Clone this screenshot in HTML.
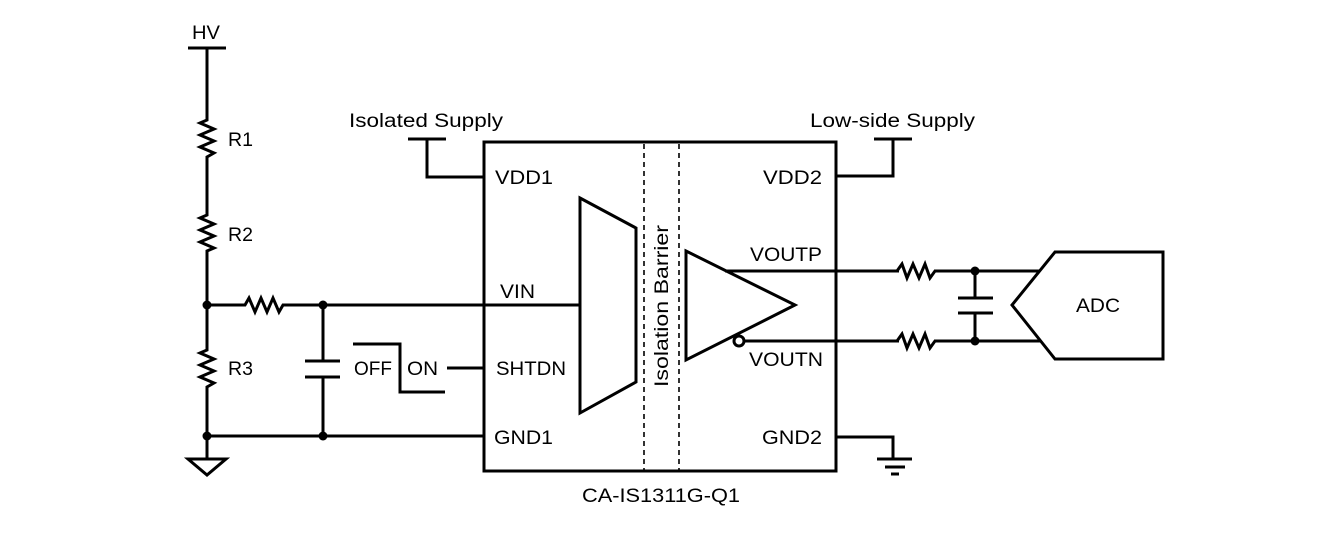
<!DOCTYPE html>
<html><head><style>
html,body{margin:0;padding:0;background:#fff;}
svg{display:block;}
text{font-family:"Liberation Sans",sans-serif;font-size:19px;fill:#000;}
</style></head><body>
<svg width="1318" height="541" viewBox="0 0 1318 541" xmlns="http://www.w3.org/2000/svg">
<g fill="none" stroke="#000" stroke-width="3" stroke-linejoin="miter">
<line x1="188" y1="48" x2="226" y2="48"/>
<polyline points="207,48 207,120 200,123 214,129 200,135 214,141 200,147 214,153 207,157 207,215 200,218 214,224 200,230 214,236 200,242 214,248 207,251 207,350 200,353 214,359 200,365 214,371 200,377 214,383 207,387 207,459"/>
<polygon points="188,459 226,459 207,475"/>
<line x1="207" y1="436" x2="484" y2="436"/>
<polyline points="207,305 245,305 249,298 255,312 261,298 267,312 273,298 279,312 283,305 580,305"/>
<line x1="323" y1="305" x2="323" y2="361"/>
<line x1="305" y1="361" x2="340" y2="361"/>
<line x1="305" y1="377" x2="340" y2="377"/>
<line x1="323" y1="377" x2="323" y2="436"/>
<polyline points="353,344 400,344 400,392 445,392"/>
<line x1="447" y1="368" x2="484" y2="368"/>
<line x1="408" y1="139" x2="446" y2="139"/>
<polyline points="427,139 427,177 484,177"/>
<rect x="484" y="142" width="352" height="329"/>
<polygon points="580,198 636,228 636,382 580,413"/>
<polygon points="686,251 795,305 686,360"/>
<circle cx="739" cy="341" r="5"/>
<line x1="725" y1="271" x2="1040" y2="271"/>
<line x1="744" y1="341" x2="1040" y2="341"/>
<line x1="874" y1="139" x2="912" y2="139"/>
<polyline points="893,139 893,176 836,176"/>
<polyline points="836,437 893,437 893,459"/>
<line x1="877" y1="459" x2="912" y2="459"/>
<line x1="885" y1="467" x2="905" y2="467"/>
<line x1="891" y1="474" x2="899" y2="474"/>
<polygon points="1055,252 1163,252 1163,359 1055,359 1012,305"/>
<line x1="975" y1="271" x2="975" y2="298"/>
<line x1="958" y1="298" x2="993" y2="298"/>
<line x1="958" y1="313" x2="993" y2="313"/>
<line x1="975" y1="313" x2="975" y2="341"/>
</g>
<g stroke="#fff" stroke-width="5"><line x1="899" y1="271" x2="934" y2="271"/><line x1="899" y1="341" x2="934" y2="341"/></g>
<g fill="none" stroke="#000" stroke-width="3">
<polyline points="897,271 902,264 907,278 913,264 919,278 925,264 930,278 935,271"/>
<polyline points="897,341 902,334 907,348 913,334 919,348 925,334 930,348 935,341"/>
</g>
<g stroke="#000" stroke-width="1.6" stroke-dasharray="5,4">
<line x1="644" y1="144" x2="644" y2="470"/>
<line x1="679" y1="144" x2="679" y2="470"/>
</g>
<g fill="#000">
<circle cx="207" cy="305" r="4.5"/><circle cx="323" cy="305" r="4.5"/>
<circle cx="207" cy="436" r="4.5"/><circle cx="323" cy="436" r="4.5"/>
<circle cx="975" cy="271" r="4.5"/><circle cx="975" cy="341" r="4.5"/>
</g>
<g lengthAdjust="spacingAndGlyphs">
<text x="192" y="39" textLength="28" lengthAdjust="spacingAndGlyphs">HV</text>
<text x="228" y="146" textLength="25" lengthAdjust="spacingAndGlyphs">R1</text>
<text x="228" y="241" textLength="25" lengthAdjust="spacingAndGlyphs">R2</text>
<text x="228" y="375" textLength="25" lengthAdjust="spacingAndGlyphs">R3</text>
<text x="349" y="127" textLength="154" lengthAdjust="spacingAndGlyphs">Isolated Supply</text>
<text x="810" y="127" textLength="165" lengthAdjust="spacingAndGlyphs">Low-side Supply</text>
<text x="354" y="375" textLength="38" lengthAdjust="spacingAndGlyphs">OFF</text>
<text x="407" y="375" textLength="31" lengthAdjust="spacingAndGlyphs">ON</text>
<text x="495" y="184" textLength="58" lengthAdjust="spacingAndGlyphs">VDD1</text>
<text x="500" y="298" textLength="35" lengthAdjust="spacingAndGlyphs">VIN</text>
<text x="496" y="375" textLength="70" lengthAdjust="spacingAndGlyphs">SHTDN</text>
<text x="494" y="444" textLength="59" lengthAdjust="spacingAndGlyphs">GND1</text>
<text x="763" y="184" textLength="59" lengthAdjust="spacingAndGlyphs">VDD2</text>
<text x="750" y="261" textLength="72" lengthAdjust="spacingAndGlyphs">VOUTP</text>
<text x="749" y="366" textLength="74" lengthAdjust="spacingAndGlyphs">VOUTN</text>
<text x="762" y="444" textLength="60" lengthAdjust="spacingAndGlyphs">GND2</text>
<text x="1076" y="312" textLength="44" lengthAdjust="spacingAndGlyphs">ADC</text>
<text x="582" y="502" textLength="158" lengthAdjust="spacingAndGlyphs">CA-IS1311G-Q1</text>
<text transform="translate(668,387) rotate(-90)" textLength="162" lengthAdjust="spacingAndGlyphs">Isolation Barrier</text>
</g>
</svg>
</body></html>
